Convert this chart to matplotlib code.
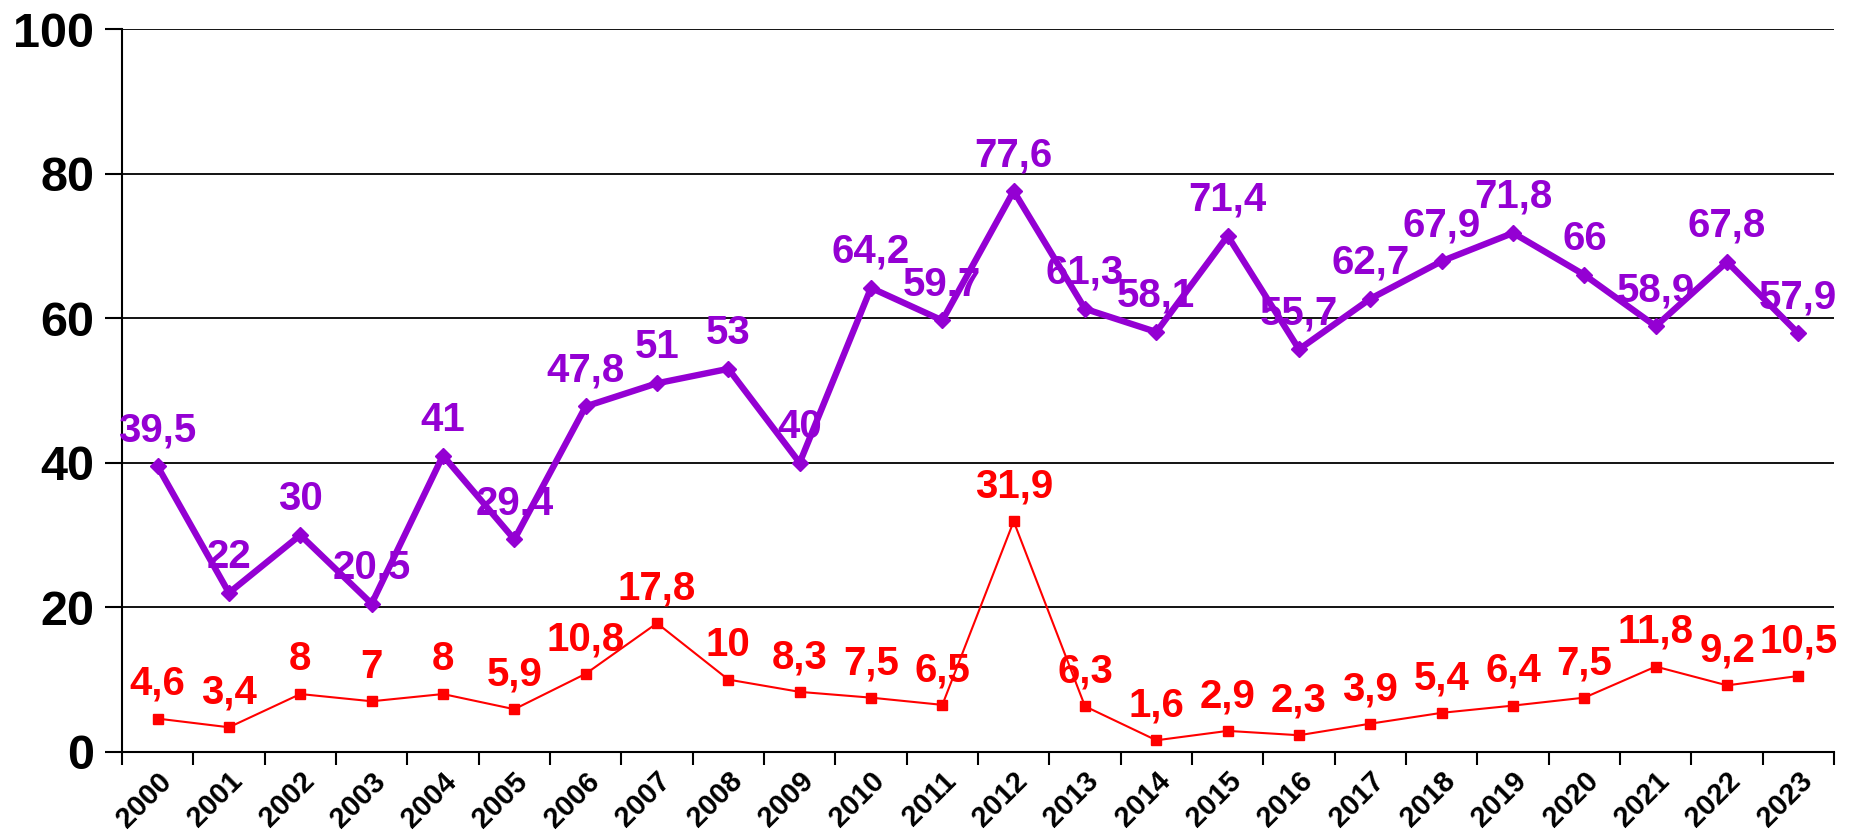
import matplotlib
matplotlib.use('Agg')
import matplotlib.pyplot as plt
from matplotlib.ticker import FixedLocator

years = [str(y) for y in range(2000, 2024)]
purple_vals = [39.5, 22, 30, 20.5, 41, 29.4, 47.8, 51, 53, 40, 64.2, 59.7, 77.6,
               61.3, 58.1, 71.4, 55.7, 62.7, 67.9, 71.8, 66, 58.9, 67.8, 57.9]
red_vals = [4.6, 3.4, 8, 7, 8, 5.9, 10.8, 17.8, 10, 8.3, 7.5, 6.5, 31.9,
            6.3, 1.6, 2.9, 2.3, 3.9, 5.4, 6.4, 7.5, 11.8, 9.2, 10.5]
y_ticks = [0, 20, 40, 60, 80, 100]

purple = '#9400D3'
red = '#FF0000'

plt.rcParams['font.family'] = ['Liberation Sans', 'DejaVu Sans']
plt.rcParams['font.weight'] = 'bold'

fig = plt.figure(figsize=(18.62, 8.34), dpi=100)
ax = fig.add_axes([0.0655, 0.0985, 0.9195, 0.8665])

x = list(range(len(years)))
ax.plot(x, purple_vals, color=purple, lw=4.6, marker='D', ms=8, zorder=3)
ax.plot(x, red_vals, color=red, lw=1.5, marker='s', ms=7.5, zorder=3)


def fmt(v):
    return ('%g' % v).replace('.', ',')


for xi, v in zip(x, purple_vals):
    ax.annotate(fmt(v), (xi, v), xytext=(0, 18), textcoords='offset points',
                ha='center', va='baseline', fontsize=29, fontweight='bold',
                color=purple, zorder=4)
for xi, v in zip(x, red_vals):
    ax.annotate(fmt(v), (xi, v), xytext=(0, 17), textcoords='offset points',
                ha='center', va='baseline', fontsize=29, fontweight='bold',
                color=red, zorder=4)

ax.set_xlim(-0.5, len(years) - 0.5)
ax.set_ylim(0, 100)

# year boundaries as tick marks, labels at the centres
ax.xaxis.set_major_locator(FixedLocator([i - 0.5 for i in range(len(years) + 1)]))
ax.set_xticklabels([])
ax.xaxis.set_minor_locator(FixedLocator([i + 0.27 for i in x]))
ax.set_xticklabels(years, minor=True, rotation=45, ha='right', fontsize=21,
                   fontweight='bold')
ax.tick_params(axis='x', which='major', length=9, width=1.5, direction='out')
ax.tick_params(axis='x', which='minor', length=0, pad=11)

ax.set_yticks(y_ticks)
ax.tick_params(axis='y', length=12, width=1.5, labelsize=35, pad=8)
for lab in ax.get_yticklabels():
    lab.set_fontweight('bold')

ax.yaxis.grid(True, color='black', lw=1.3)
ax.set_axisbelow(True)
for s in ['top', 'right']:
    ax.spines[s].set_visible(False)
ax.spines['left'].set_linewidth(1.5)
ax.spines['bottom'].set_linewidth(1.5)

fig.savefig('out.png', dpi=100)
